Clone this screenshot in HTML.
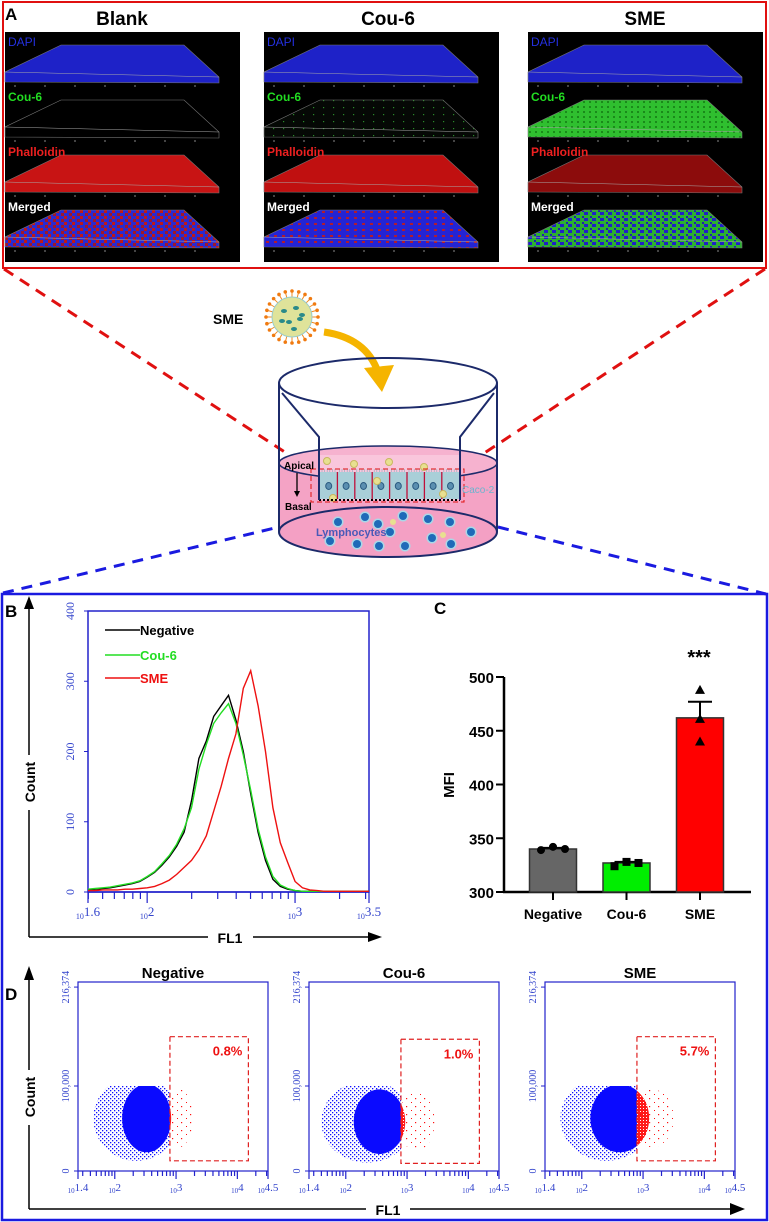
<!DOCTYPE html>
<html><head><meta charset="utf-8"><style>
html,body{margin:0;padding:0;background:#fff;}
svg{display:block;font-family:"Liberation Sans",sans-serif;}
.ser{font-family:"Liberation Serif",serif;}
</style></head><body>
<svg id="fig" width="769" height="1222" viewBox="0 0 769 1222" xmlns="http://www.w3.org/2000/svg">
<defs>
<pattern id="mergeBlank" width="8" height="6" patternUnits="userSpaceOnUse"><rect width="8" height="6" fill="#2a2ad0"/><rect x="0" y="0" width="3" height="3" fill="#c01818"/><rect x="5" y="3" width="3" height="3" fill="#a01828"/></pattern>
<pattern id="mergeCou" width="8" height="6" patternUnits="userSpaceOnUse"><rect width="8" height="6" fill="#2424d4"/><rect x="2" y="1" width="3" height="2" fill="#b01c30"/></pattern>
<pattern id="mergeSme" width="8" height="6" patternUnits="userSpaceOnUse"><rect width="8" height="6" fill="#2cb030"/><rect x="0" y="2" width="4" height="3" fill="#2020c8"/><rect x="6" y="0" width="2" height="2" fill="#1f1fb0"/></pattern>
<pattern id="couSparse" width="10" height="7" patternUnits="userSpaceOnUse"><rect width="10" height="7" fill="#050805"/><rect x="3" y="2" width="1.2" height="1.2" fill="#2a8a2a"/></pattern>
<pattern id="smeGreen" width="6" height="5" patternUnits="userSpaceOnUse"><rect width="6" height="5" fill="#2fbf2f"/><rect x="1" y="1" width="2" height="2" fill="#1a8a1a"/></pattern>
<pattern id="blueDots" width="4" height="4" patternUnits="userSpaceOnUse"><rect x="0" y="0" width="1.3" height="1.3" fill="#1010ff"/><rect x="2" y="2" width="1.3" height="1.3" fill="#1010ff"/></pattern>
<pattern id="redDots" width="9" height="8" patternUnits="userSpaceOnUse"><rect x="1" y="2" width="1.2" height="1.2" fill="#ff1010"/><rect x="6" y="6" width="1" height="1" fill="#ff1010"/></pattern>
<pattern id="redDense" width="3" height="3" patternUnits="userSpaceOnUse"><rect width="3" height="3" fill="#ff1a1a"/><rect x="1" y="1" width="1" height="1" fill="#fff"/></pattern>
</defs>

<g id="panelA">
<rect x="3" y="2" width="763" height="266" fill="none" stroke="#e01010" stroke-width="2"/>
<text x="5" y="20" font-size="17" font-weight="bold">A</text>
<text x="122" y="25" font-size="19" font-weight="bold" text-anchor="middle">Blank</text>
<text x="388" y="25" font-size="19" font-weight="bold" text-anchor="middle">Cou-6</text>
<text x="645" y="25" font-size="19" font-weight="bold" text-anchor="middle">SME</text>
<g id="aImages"></g>
</g>

<line x1="4" y1="269" x2="300" y2="462" stroke="#e01010" stroke-width="3" stroke-dasharray="11,8"/>
<line x1="765" y1="269" x2="463" y2="467" stroke="#e01010" stroke-width="3" stroke-dasharray="11,8"/>
<line x1="3" y1="593" x2="279" y2="527" stroke="#1a1ae0" stroke-width="3" stroke-dasharray="11,8"/>
<line x1="498" y1="527" x2="766" y2="594" stroke="#1a1ae0" stroke-width="3" stroke-dasharray="11,8"/>

<g id="diagram">
<text x="213" y="324" font-size="14" font-weight="bold">SME</text>
<g id="particle"></g>
<path d="M324,332 Q366,338 378,372" fill="none" stroke="#f5b400" stroke-width="7"/>
<polygon points="364,368 394,365 382,392" fill="#f5b400"/>
<path d="M279,463 L279,532 A109,25 0 0 0 497,532 L497,463 Z" fill="#f4a3c5"/>
<ellipse cx="388" cy="463" rx="109" ry="17" fill="#f6b2cf" stroke="#1c2a6a" stroke-width="1.5"/>
<rect x="319" y="455" width="141" height="45" fill="#f9c6dc"/>
<rect x="320" y="472" width="139" height="27" fill="#a9cfd8"/>
<g id="cells"></g>
<line x1="319" y1="500" x2="460" y2="500" stroke="#000" stroke-width="2" stroke-dasharray="2,2"/>
<rect x="311" y="469" width="153" height="33" fill="none" stroke="#e01010" stroke-width="1" stroke-dasharray="5,3"/>
<ellipse cx="388" cy="532" rx="109" ry="25" fill="#f4a0c4" stroke="#1c2a6a" stroke-width="2"/>
<g id="lymph"></g>
<ellipse cx="388" cy="383" rx="109" ry="25" fill="none" stroke="#1c2a6a" stroke-width="2"/>
<line x1="279" y1="383" x2="279" y2="532" stroke="#1c2a6a" stroke-width="2"/>
<line x1="497" y1="383" x2="497" y2="532" stroke="#1c2a6a" stroke-width="2"/>
<polyline points="282,393 319,437 319,500" fill="none" stroke="#1c2a6a" stroke-width="2"/>
<polyline points="494,393 460,437 460,500" fill="none" stroke="#1c2a6a" stroke-width="2"/>
<text x="284" y="469" font-size="10" font-weight="bold">Apical</text>
<line x1="297" y1="473" x2="297" y2="492" stroke="#000" stroke-width="1.3"/>
<polygon points="294,491 300,491 297,497" fill="#000"/>
<text x="285" y="510" font-size="10" font-weight="bold">Basal</text>
<text x="462" y="493" font-size="10" fill="#6ab4cf">Caco-2</text>
<text x="316" y="536" font-size="11" font-weight="bold" fill="#4a5ab8">Lymphocytes</text>
</g>

<rect x="2" y="594" width="765" height="626" fill="none" stroke="#1a1ae0" stroke-width="2.5"/>

<g id="panelB">
<text x="5" y="617" font-size="17" font-weight="bold">B</text>
<line x1="29" y1="937" x2="29" y2="606" stroke="#000" stroke-width="1.5"/>
<polygon points="24,609 34,609 29,596" fill="#000"/>
<rect x="18" y="755" width="22" height="55" fill="#fff"/>
<text transform="translate(35,782) rotate(-90)" font-size="14" font-weight="bold" text-anchor="middle">Count</text>
<line x1="29" y1="937" x2="372" y2="937" stroke="#000" stroke-width="1.5"/>
<polygon points="368,932 368,942 382,937" fill="#000"/>
<rect x="208" y="928" width="45" height="18" fill="#fff"/>
<text x="230" y="943" font-size="14" font-weight="bold" text-anchor="middle">FL1</text>
<rect x="88" y="611" width="281" height="281" fill="none" stroke="#2222cc" stroke-width="1.5"/>
<g id="histMarks"></g>
<line x1="105" y1="630" x2="140" y2="630" stroke="#000" stroke-width="1.5"/>
<text x="140" y="635" font-size="13" font-weight="bold">Negative</text>
<line x1="105" y1="655" x2="140" y2="655" stroke="#22dd22" stroke-width="1.5"/>
<text x="140" y="660" font-size="13" font-weight="bold" fill="#22dd22">Cou-6</text>
<line x1="105" y1="678" x2="140" y2="678" stroke="#ee1111" stroke-width="1.5"/>
<text x="140" y="683" font-size="13" font-weight="bold" fill="#ee1111">SME</text>
</g>

<g id="panelC">
<text x="434" y="614" font-size="17" font-weight="bold">C</text>
<text transform="translate(454,785) rotate(-90)" font-size="15" font-weight="bold" text-anchor="middle">MFI</text>
<text x="699" y="664" font-size="20" font-weight="bold" text-anchor="middle">***</text>
<g id="barMarks"></g>
</g>

<g id="panelD">
<text x="5" y="1000" font-size="17" font-weight="bold">D</text>
<line x1="29" y1="1209" x2="29" y2="978" stroke="#000" stroke-width="1.5"/>
<polygon points="24,980 34,980 29,966" fill="#000"/>
<rect x="18" y="1070" width="22" height="55" fill="#fff"/>
<text transform="translate(35,1097) rotate(-90)" font-size="14" font-weight="bold" text-anchor="middle">Count</text>
<line x1="29" y1="1209" x2="735" y2="1209" stroke="#000" stroke-width="1.5"/>
<polygon points="730,1203 730,1215 745,1209" fill="#000"/>
<rect x="366" y="1200" width="44" height="18" fill="#fff"/>
<text x="388" y="1215" font-size="14" font-weight="bold" text-anchor="middle">FL1</text>
<g id="scatterMarks"></g>
</g>
</svg>
<script>
// ---------- Panel B data ----------
const histLogX = [1.6,1.65,1.7,1.75,1.8,1.85,1.9,1.95,2.0,2.05,2.1,2.15,2.2,2.25,2.3,2.35,2.4,2.45,2.5,2.55,2.6,2.65,2.7,2.75,2.8,2.85,2.9,2.95,3.0,3.05,3.1,3.15,3.2,3.25,3.3,3.35,3.4,3.45,3.5];
const negativeCounts = [3,4,5,6,8,10,12,15,21,28,38,50,65,85,130,190,215,250,265,280,245,200,140,85,45,18,8,4,2,1,1,1,1,1,1,1,1,1,1];
const cou6Counts = [4,5,6,7,9,11,13,16,22,29,40,52,68,90,120,175,210,240,255,268,240,195,145,90,50,22,10,5,2,1,1,1,1,1,1,1,1,1,1];
const smeCounts = [2,2,3,3,3,4,4,5,6,8,12,17,25,35,45,60,80,115,150,190,225,290,315,265,200,120,70,42,15,6,3,2,1,1,1,1,1,1,1];
const histYTicks = [0,100,200,300,400];
const histXTickVals = [1.6,2,3,3.5];
const histXTickLabels = ['1.6','2','3','3.5'];
// ---------- Panel C data ----------
const mfiCategories = ['Negative','Cou-6','SME'];
const mfiMeans = [340,327,462];
const mfiSEM = [1,1,15];
const mfiPoints = [[339,342,340],[324,328,327],[488,461,440]];
const mfiYTicks = [300,350,400,450,500];
// ---------- Panel D data ----------
const scatterGroups = ['Negative','Cou-6','SME'];
const gatePercents = ['0.8%','1.0%','5.7%'];
const gateLog = [2.9,2.9,2.9];
const gateRightLog = [4.18,4.18,4.18];
const gateTopVal = [158000,155000,158000];
const gateBottomVal = [12000,9000,12000];
const coreLog = [2.52,2.55,2.62];
const coreVal = [62000,58000,62000];
const coreRxLog = [0.4,0.42,0.48];
const coreRyVal = [40000,38000,40000];
const haloLog = [2.35,2.35,2.4];
const haloRxLog = [0.7,0.75,0.75];
const haloRyVal = [50000,48000,50000];
const redLog = [3.05,3.15,3.15];
const redRxLog = [0.22,0.3,0.35];
const scatterYTicks = [0,100000,216374];
const scatterYTickLabels = ['0','100,000','216,374'];
const scatterXTickVals = [1.4,2,3,4,4.5];
const scatterXTickLabels = ['1.4','2','3','4','4.5'];

const NS='http://www.w3.org/2000/svg';
function mk(tag,attrs,parent){const e=document.createElementNS(NS,tag);for(const k in attrs)e.setAttribute(k,attrs[k]);parent.appendChild(e);return e;}

(function(){
  const g=document.getElementById('aImages');
  const lefts=[5,264,528];
  const labels=['DAPI','Cou-6','Phalloidin','Merged'];
  const lcol=['#2430e0','#22dd22','#ee2020','#ffffff'];
  const fills=[['#1e22c8','#1e22c8','#1e22c8'],['#000','url(#couSparse)','url(#smeGreen)'],['#c81414','#c01010','#8c0c0c'],['url(#mergeBlank)','url(#mergeCou)','url(#mergeSme)']];
  const names=['blank','cou6','sme'];
  for(let i=0;i<3;i++){
    const L=lefts[i],T=32;
    const r=mk('rect',{x:L,y:T,width:235,height:230,fill:'#000'},g);
    
    
    for(let j=0;j<4;j++){
      const o=T+j*55;
      const p=`${L+56},${o+13} ${L+179},${o+13} ${L+214},${o+45} ${L+214},${o+51} ${L},${o+50} ${L},${o+40}`;
      const s=mk('polygon',{points:p,fill:fills[j][i],stroke:'#777','stroke-width':0.6},g);
      
      
      mk('line',{x1:L,y1:o+40,x2:L+214,y2:o+45,stroke:'#aaa','stroke-width':0.5},g);
      for(let t=0;t<7;t++){mk('line',{x1:L+10+t*30,y1:o+53,x2:L+10+t*30,y2:o+55,stroke:'#888','stroke-width':1},g);}
      const tx=mk('text',{x:L+3,y:o+14,'font-size':12,fill:lcol[j],'font-weight':j===0?'normal':'bold'},g);
      tx.textContent=labels[j];
      
      
    }
  }
})();

(function(){
  const pg=document.getElementById('particle');
  const cx=292,cy=317;
  for(let k=0;k<24;k++){const a=k/24*Math.PI*2;mk('line',{x1:cx+19*Math.cos(a),y1:cy+19*Math.sin(a),x2:cx+25*Math.cos(a),y2:cy+25*Math.sin(a),stroke:'#f08a20','stroke-width':1},pg);mk('circle',{cx:cx+26*Math.cos(a),cy:cy+26*Math.sin(a),r:1.8,fill:'#f07a10'},pg);}
  mk('circle',{cx:cx,cy:cy,r:20,fill:'#dfe39a',stroke:'#9cc',"stroke-width":1},pg);
  [[-8,-6],[4,-9],[8,2],[-3,5],[-10,4],[2,12],[10,-2]].forEach(d=>mk('ellipse',{cx:cx+d[0],cy:cy+d[1],rx:3,ry:2,fill:'#2a8a8a'},pg));
  const cg=document.getElementById('cells');
  for(let k=0;k<8;k++){
    const x=320+k*17.4;
    if(k>0){mk('line',{x1:x,y1:472,x2:x,y2:499,stroke:'#c0103a','stroke-width':1.3},cg);}
    mk('ellipse',{cx:x+8.7,cy:486,rx:3,ry:3.5,fill:'#5b8fb0',stroke:'#2a5a80'},cg);
    for(let c=0;c<6;c++)mk('line',{x1:x+2+c*2.6,y1:469,x2:x+2+c*2.6,y2:472,stroke:'#8ab','stroke-width':0.6},cg);
  }
  [[327,461],[354,464],[389,462],[424,467],[377,481],[333,498],[443,494]].forEach(p=>mk('circle',{cx:p[0],cy:p[1],r:3.5,fill:'#e8e090',stroke:'#c8b860'},cg));
  const lg=document.getElementById('lymph');
  [[338,522],[365,517],[378,524],[403,516],[428,519],[450,522],[471,532],[330,541],[357,544],[379,546],[405,546],[432,538],[451,544],[390,532]].forEach(p=>{mk('circle',{cx:p[0],cy:p[1],r:5.5,fill:'#a8d8e8'},lg);mk('circle',{cx:p[0],cy:p[1],r:4,fill:'#1f6ab8'},lg);});
  [[393,522],[443,535]].forEach(p=>mk('circle',{cx:p[0],cy:p[1],r:3,fill:'#e8e090'},lg));
})();

(function(){
  const g=document.getElementById('histMarks');
  const bx=v=>88+(v-1.6)/1.9*281;
  const by=c=>892-c*0.7025;
  histYTicks.forEach(t=>{
    const y=by(t);
    const tl=mk('line',{x1:84,y1:y,x2:88,y2:y,stroke:'#2222cc','stroke-width':1},g);
    
    
    const tx=mk('text',{transform:`translate(74,${y}) rotate(-90)`,'font-size':12,fill:'#3344cc','text-anchor':'middle',class:'ser'},g);
    tx.textContent=String(t);
    
    
  });
  mk('line',{x1:88,y1:892,x2:369,y2:892,stroke:'#2222cc','stroke-width':1.5},g);
  for(let n=1;n<=3;n++)for(let k=1;k<10;k++){const v=n+Math.log10(k);if(v<1.6-1e-9||v>3.5+1e-9)continue;const tk=mk('line',{x1:bx(v),y1:892,x2:bx(v),y2:k===1?903:899,stroke:'#2222cc','stroke-width':1.2},g);}
  [1.6,3.5].forEach(v=>mk('line',{x1:bx(v),y1:892,x2:bx(v),y2:903,stroke:'#2222cc','stroke-width':1.2},g));
  histXTickVals.forEach((v,i)=>{
    const tx=mk('text',{x:bx(v),y:916,fill:'#3344cc',class:'ser','text-anchor':'middle'},g);
    tx.innerHTML=`<tspan font-size="8" dy="3">10</tspan><tspan font-size="13" dy="-3">${histXTickLabels[i]}</tspan>`;
    
    
  });
  const series=[[negativeCounts,'#000','negative'],[cou6Counts,'#22dd22','cou6'],[smeCounts,'#ee1111','sme']];
  series.forEach(s=>{
    const d=histLogX.map((x,i)=>(i?'L':'M')+bx(x).toFixed(1)+','+by(s[0][i]).toFixed(1)).join(' ');
    const p=mk('path',{d:d,fill:'none',stroke:s[1],'stroke-width':1.4},g);
    
    
  });
})();

(function(){
  const g=document.getElementById('barMarks');
  const cy=v=>892-(v-300)*1.075;
  const cx=i=>553+i*73.5;
  const cols=['#666666','#00ee00','#ff0000'];
  mk('line',{x1:504,y1:cy(500),x2:504,y2:892,stroke:'#000','stroke-width':2.5},g);
  mk('line',{x1:503,y1:892,x2:751,y2:892,stroke:'#000','stroke-width':2.5},g);
  mfiYTicks.forEach(t=>{
    const tl=mk('line',{x1:496,y1:cy(t),x2:504,y2:cy(t),stroke:'#000','stroke-width':2},g);
    
    
    const tx=mk('text',{x:494,y:cy(t)+6,'font-size':15,'font-weight':'bold','text-anchor':'end'},g);
    tx.textContent=String(t);
    
    
  });
  mfiCategories.forEach((c,i)=>{
    const x=cx(i);
    const r=mk('rect',{x:x-23.5,y:cy(mfiMeans[i]),width:47,height:892-cy(mfiMeans[i]),fill:cols[i],stroke:'#333','stroke-width':1.5},g);
    
    
    const e1=mk('line',{x1:x,y1:cy(mfiMeans[i]),x2:x,y2:cy(mfiMeans[i]+mfiSEM[i]),stroke:'#000','stroke-width':2},g);
    
    
    mk('line',{x1:x-12,y1:cy(mfiMeans[i]+mfiSEM[i]),x2:x+12,y2:cy(mfiMeans[i]+mfiSEM[i]),stroke:'#000','stroke-width':2},g);
    mfiPoints[i].forEach((v,k)=>{
      const px=i===2?x:x-12+k*12;
      let m;
      if(i===0)m=mk('circle',{cx:px,cy:cy(v),r:4,fill:'#000'},g);
      else if(i===1)m=mk('rect',{x:px-4,y:cy(v)-4,width:8,height:8,fill:'#000'},g);
      else m=mk('polygon',{points:`${px-5},${cy(v)+4} ${px+5},${cy(v)+4} ${px},${cy(v)-5}`,fill:'#000'},g);
      
      
    });
    mk('line',{x1:x,y1:892,x2:x,y2:900,stroke:'#000','stroke-width':2},g);
    const tx=mk('text',{x:x,y:919,'font-size':14,'font-weight':'bold','text-anchor':'middle'},g);
    tx.textContent=c;
    
    
  });
})();

(function(){
  const root=document.getElementById('scatterMarks');
  const lefts=[78,309,545], W=190, bottom=1171, top=982;
  const defs=document.querySelector('defs');
  scatterGroups.forEach((name,i)=>{
    const L=lefts[i];
    const sx=v=>L+(v-1.4)/3.1*W;
    const sy=v=>bottom-v*0.00085;
    const g=mk('g',{},root);
    
    
    const t=mk('text',{x:L+W/2,y:978,'font-size':15,'font-weight':'bold','text-anchor':'middle'},g);
    t.textContent=name;
    
    
    const fr=mk('rect',{x:L,y:top,width:W,height:bottom-top,fill:'none',stroke:'#2222cc','stroke-width':1.2},g);
    
    
    const gx=sx(gateLog[i]);
    const c1=mk('clipPath',{id:'cb'+i},defs);mk('rect',{x:L,y:sy(100000),width:gx-L,height:bottom-sy(100000)},c1);
    const c2=mk('clipPath',{id:'cr'+i},defs);mk('rect',{x:gx,y:sy(100000),width:L+W-gx,height:bottom-sy(100000)},c2);
    const bl=mk('g',{'clip-path':`url(#cb${i})`},g);
    const rd=mk('g',{'clip-path':`url(#cr${i})`},g);
    const halo=mk('ellipse',{cx:sx(haloLog[i]),cy:sy(coreVal[i]),rx:haloRxLog[i]/3.1*W,ry:haloRyVal[i]*0.00085,fill:'url(#blueDots)'},bl);
    
    
    const core=mk('ellipse',{cx:sx(coreLog[i]),cy:sy(coreVal[i]),rx:coreRxLog[i]/3.1*W,ry:coreRyVal[i]*0.00085,fill:'#0a0aff'},bl);
    
    
    const rc=mk('ellipse',{cx:sx(coreLog[i]),cy:sy(coreVal[i]),rx:coreRxLog[i]/3.1*W,ry:coreRyVal[i]*0.00085,fill:'url(#redDense)'},rd);
    
    
    const rs=mk('ellipse',{cx:sx(redLog[i]),cy:sy(coreVal[i]),rx:redRxLog[i]/3.1*W,ry:34000*0.00085,fill:'url(#redDots)'},rd);
    
    
    const gate=mk('rect',{x:gx,y:sy(gateTopVal[i]),width:sx(gateRightLog[i])-gx,height:sy(gateBottomVal[i])-sy(gateTopVal[i]),fill:'none',stroke:'#e02020','stroke-width':1.2,'stroke-dasharray':'5,3'},g);
    
    
    const pt=mk('text',{x:sx(gateRightLog[i])-6,y:sy(gateTopVal[i])+19,'font-size':13,'font-weight':'bold',fill:'#ee1111','text-anchor':'end'},g);
    pt.textContent=gatePercents[i];
    
    
    scatterYTicks.forEach((v,k)=>{
      const y=sy(v);
      const tl=mk('line',{x1:L-4,y1:y,x2:L,y2:y,stroke:'#2222cc','stroke-width':1},g);
      
      
      const tx=mk('text',{transform:`translate(${L-9},${y}) rotate(-90)`,'font-size':10,fill:'#3344cc','text-anchor':'middle',class:'ser'},g);
      tx.textContent=scatterYTickLabels[k];
      
      
    });
    for(let n=1;n<=4;n++)for(let k=1;k<10;k++){const v=n+Math.log10(k);if(v<1.4-1e-9||v>4.5+1e-9)continue;const tk=mk('line',{x1:sx(v),y1:bottom,x2:sx(v),y2:bottom+(k===1?8:5),stroke:'#2222cc','stroke-width':1.2},g);}
    [1.4,4.5].forEach(v=>mk('line',{x1:sx(v),y1:bottom,x2:sx(v),y2:bottom+8,stroke:'#2222cc','stroke-width':1.2},g));
    scatterXTickVals.forEach((v,k)=>{
      const tx=mk('text',{x:sx(v),y:bottom+20,fill:'#3344cc',class:'ser','text-anchor':'middle'},g);
      tx.innerHTML=`<tspan font-size="7" dy="2">10</tspan><tspan font-size="11" dy="-2">${scatterXTickLabels[k]}</tspan>`;
      
      
    });
  });
})();
</script>
</body></html>
